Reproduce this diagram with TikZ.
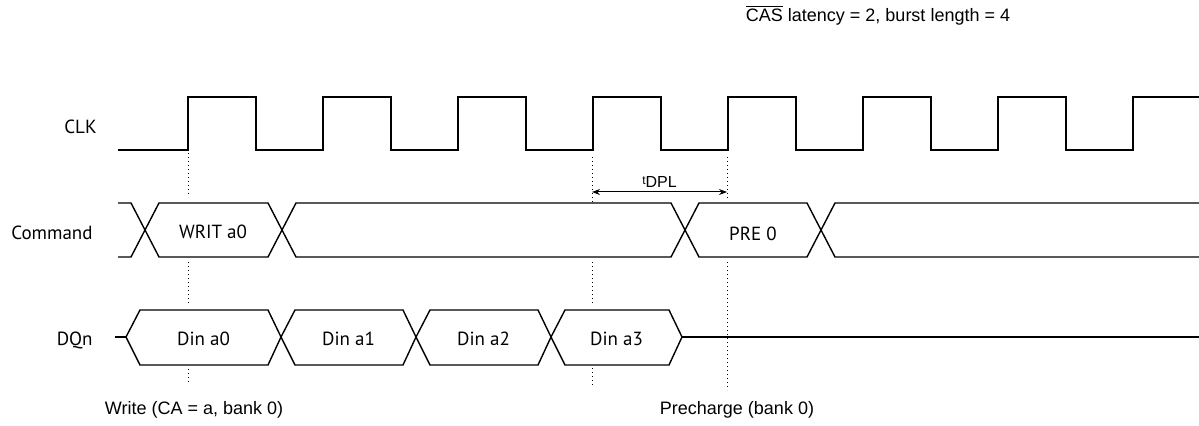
\documentclass[tikz,border=0pt]{standalone}
\usepackage{fontspec}
\setmainfont{Liberation Sans}
\newfontfamily\sigfont{PT Sans}
\usetikzlibrary{arrows.meta}

\begin{document}
\begin{tikzpicture}[
    x=0.5pt, y=-0.5pt,
    wave/.style={line width=0.7pt, line join=miter},
    guide/.style={line width=0.5pt, dash pattern=on 0.6pt off 1.4pt},
    sig/.style={font=\sigfont\fontsize{9.5}{11}\selectfont, inner sep=0pt},
    note/.style={font=\fontsize{9}{11}\selectfont, inner sep=0pt},
    dim/.style={{Stealth[length=4pt,width=3pt]}-{Stealth[length=4pt,width=3pt]}, line width=0.5pt}
]
\useasboundingbox (0,0) rectangle (1199,426);
\node[note] (title) at (878,15) {$\overline{\hbox{CAS}}$ latency = 2, burst length = 4};
\node[sig, anchor=east] (clk) at (97,127) {CLK};
\node[sig, anchor=east] (cmd) at (93,233) {Command};
\node[sig, anchor=east] (dq) at (93,340) {DQn};
\draw[wave] (118,150) -- (188,150)
    \foreach \k in {0,...,6} { -- (188+135*\k,97) -- (256+135*\k,97) -- (256+135*\k,150) -- (323+135*\k,150) }
    -- (1133,97) -- (1199,97);
\draw[wave] (118,203) -- (131,203) -- (145,230) -- (131,257) -- (118,257);
\draw[wave] (1199,203) -- (835,203) -- (821,230) -- (835,257) -- (1199,257);
\foreach \l/\r in {145/282, 282/685, 685/821}
    \draw[wave] (\l,230) -- (\l+14,203) -- (\r-14,203) -- (\r,230) -- (\r-14,257) -- (\l+14,257) -- cycle;
\node[sig] (writ) at (213,232) {WRIT a0};
\node[sig] (pre) at (753,234) {PRE 0};
\draw[wave] (115,337) -- (126,337);
\foreach \l/\r [count=\i from 0] in {126/281, 281/416, 416/551, 551/682} {
    \draw[wave] (\l,337) -- (\l+14,310) -- (\r-13,310) -- (\r,337) -- (\r-13,365) -- (\l+14,365) -- cycle;
    \node[sig] (din\i) at ({(\l+\r)/2},339) {Din a\i};
}
\draw[wave] (682,337) -- (1199,337);
\foreach \x/\a/\b in {188/153/197, 188/262/303, 188/369/384, 592/157/202, 592/262/305, 592/368/387, 727/157/199, 727/262/390}
    \draw[guide] (\x,\a) -- (\x,\b);
\coordinate (dplA) at (592,192);
\coordinate (dplB) at (727,192);
\draw[dim] (dplA) -- (dplB) node[midway, above=2pt, note] (tdpl) {\raisebox{1.5pt}{\fontsize{6}{7}\selectfont t}{\fontsize{8}{9}\selectfont DPL}};
\node[note] (wr) at (194,410) {Write (CA = a, bank 0)};
\node[note] (prc) at (737,410) {Precharge (bank 0)};
\end{tikzpicture}
\end{document}
